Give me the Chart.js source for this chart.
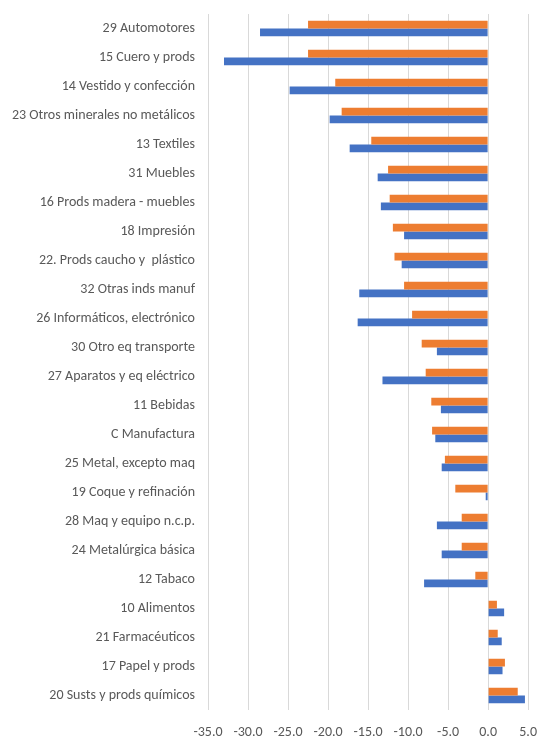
<!DOCTYPE html>
<html>
<head>
<meta charset="utf-8">
<script src="https://cdn.jsdelivr.net/npm/chart.js@4"></script>
<style>
  html, body { margin: 0; padding: 0; background: #fff; }
  #wrap { width: 551px; height: 746px; position: relative; }
</style>
</head>
<body>
<div id="wrap"><canvas id="grafico"></canvas></div>
<script>
const categorias = [
    '29 Automotores',
    '15 Cuero y prods',
    '14 Vestido y confección',
    '23 Otros minerales no metálicos',
    '13 Textiles',
    '31 Muebles',
    '16 Prods madera - muebles',
    '18 Impresión',
    '22. Prods caucho y  plástico',
    '32 Otras inds manuf',
    '26 Informáticos, electrónico',
    '30 Otro eq transporte',
    '27 Aparatos y eq eléctrico',
    '11 Bebidas',
    'C Manufactura',
    '25 Metal, excepto maq',
    '19 Coque y refinación',
    '28 Maq y equipo n.c.p.',
    '24 Metalúrgica básica',
    '12 Tabaco',
    '10 Alimentos',
    '21 Farmacéuticos',
    '17 Papel y prods',
    '20 Susts y prods químicos'
];

// serie naranja (arriba) y azul (abajo)
const serieNaranja = [-22.5, -22.5, -19.1, -18.3, -14.6, -12.5, -12.3, -11.9, -11.7, -10.5, -9.5, -8.3,
    -7.8, -7.1, -7.0, -5.4, -4.1, -3.3, -3.3, -1.6, 1.1, 1.2, 2.1, 3.7];
const serieAzul = [-28.5, -33.0, -24.8, -19.8, -17.3, -13.8, -13.4, -10.5, -10.8, -16.1, -16.3, -6.4,
    -13.2, -5.9, -6.6, -5.8, -0.3, -6.4, -5.8, -8.0, 2.0, 1.7, 1.8, 4.6];

const ejeMin = -35;
const ejeMax = 5;
const ejePaso = 5;

const fuente = 'Carlito, Calibri, "Open Sans", sans-serif';

const ctx = document.getElementById('grafico').getContext('2d');

const grafico = new Chart(ctx, {
    type: 'bar',
    data: {
        labels: categorias,
        datasets: [{
            label: 'Serie 1',
            data: serieNaranja,
            backgroundColor: '#ED7D31',
            barPercentage: 1,
            categoryPercentage: 0.54
        }, {
            label: 'Serie 2',
            data: serieAzul,
            backgroundColor: '#4472C4',
            barPercentage: 1,
            categoryPercentage: 0.54
        }]
    },
    options: {
        indexAxis: 'y',
        responsive: true,
        maintainAspectRatio: false,
        animation: false,
        layout: {
            padding: { top: 14, right: 17, bottom: 0, left: 0 }
        },
        plugins: {
            legend: { display: false },
            tooltip: { enabled: false }
        },
        scales: {
            x: {
                type: 'linear',
                min: ejeMin,
                max: ejeMax,
                ticks: {
                    stepSize: ejePaso,
                    color: '#595959',
                    font: { family: fuente, size: 14 },
                    padding: 14,
                    callback: (v) => v.toFixed(1)
                },
                grid: {
                    color: '#d9d9d9',
                    lineWidth: 1,
                    drawTicks: false
                },
                border: { display: false },
                afterFit: (scale) => { scale.height = 36; }
            },
            y: {
                type: 'category',
                ticks: {
                    color: '#595959',
                    font: { family: fuente, size: 14 },
                    padding: 13,
                    autoSkip: false
                },
                grid: { display: false, drawTicks: false },
                border: { display: false },
                afterFit: (scale) => {
                    scale.width = 208;
                    scale.paddingTop = 0;
                    scale.paddingBottom = 0;
                }
            }
        }
    }
});
</script>
</body>
</html>
